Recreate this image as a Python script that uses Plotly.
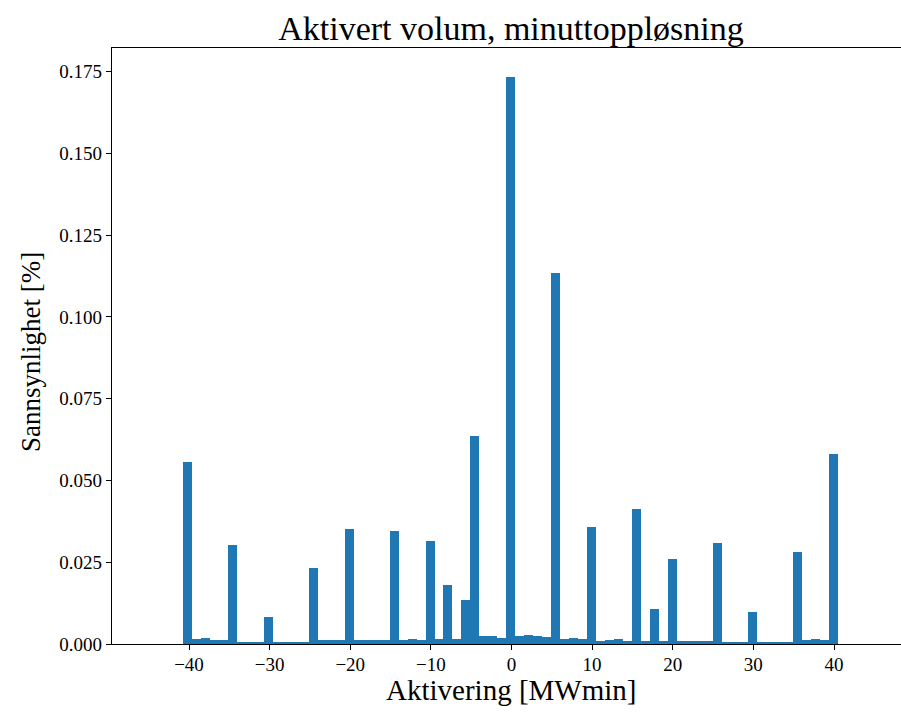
import plotly.graph_objects as go

# Histogram data (density per bin)
bin_start = -40.7
bin_width = 1.1125
densities = [
    0.0556, 0.0014, 0.0019, 0.0011, 0.0011, 0.0302, 0.0005, 0.0005, 0.0005, 0.0084,
    0.0004, 0.0004, 0.0004, 0.0004, 0.0233, 0.0011, 0.0011, 0.0011, 0.0353, 0.0011,
    0.0011, 0.0011, 0.0011, 0.0344, 0.0011, 0.0015, 0.0011, 0.0316, 0.0014, 0.0181,
    0.0014, 0.0136, 0.0636, 0.0024, 0.0023, 0.0019, 0.1734, 0.0023, 0.0029, 0.0024,
    0.0020, 0.1133, 0.0015, 0.0019, 0.0015, 0.0357, 0.0010, 0.0013, 0.0014, 0.0010,
    0.0413, 0.0010, 0.0107, 0.0010, 0.0261, 0.0010, 0.0010, 0.0010, 0.0010, 0.0310,
    0.0005, 0.0005, 0.0005, 0.0098, 0.0005, 0.0005, 0.0005, 0.0005, 0.0282, 0.0011,
    0.0015, 0.0011, 0.0580,
]
x_ticks = [-40, -30, -20, -10, 0, 10, 20, 30, 40]
y_ticks = [0.0, 0.025, 0.05, 0.075, 0.1, 0.125, 0.15, 0.175]

title_text = "Aktivert volum, minuttoppløsning"
x_label = "Aktivering [MWmin]"
y_label = "Sannsynlighet [%]"

centers = [bin_start + bin_width * (i + 0.5) for i in range(len(densities))]

FONT = "Liberation Serif, Times New Roman, serif"

fig = go.Figure()
fig.add_trace(go.Bar(
    x=centers, y=densities, width=bin_width,
    marker=dict(color="#1f77b4", line=dict(width=0)),
    showlegend=False,
))

fig.update_layout(
    width=901, height=714,
    margin=dict(l=112, r=0, t=48, b=70),
    paper_bgcolor="white", plot_bgcolor="white",
    bargap=0,
    font=dict(family=FONT, color="black"),
    title=dict(text=title_text, x=511 / 901, xref="container", xanchor="center",
               y=1 - 28 / 714, yref="container", yanchor="middle",
               font=dict(size=34, family=FONT, color="black")),
    annotations=[
        dict(text=x_label, xref="paper", yref="paper",
             x=(511 - 112) / 789, y=(644 - 690) / 596,
             xanchor="center", yanchor="middle", showarrow=False,
             font=dict(size=29, family=FONT, color="black")),
        dict(text=y_label, xref="paper", yref="paper",
             x=(31 - 112) / 789, y=(644 - 352) / 596, textangle=-90,
             xanchor="center", yanchor="middle", showarrow=False,
             font=dict(size=27, family=FONT, color="black")),
    ],
)
fig.update_xaxes(
    range=[-49.55, 48.31], tickvals=x_ticks,
    ticktext=[("\u2212" + str(-t)) if t < 0 else str(t) for t in x_ticks],
    ticks="outside", ticklen=5, tickwidth=1, tickcolor="black",
    showline=True, linecolor="black", linewidth=1.2, mirror=True,
    showgrid=False, zeroline=False, ticklabelstandoff=-2,
    tickfont=dict(size=19, family=FONT, color="black"),
)
fig.update_yaxes(
    range=[0, 0.1822], tickvals=y_ticks,
    ticktext=[f"{t:.3f}" for t in y_ticks],
    ticks="outside", ticklen=5, tickwidth=1, tickcolor="black",
    showline=True, linecolor="black", linewidth=1.2,
    showgrid=False, zeroline=False,
    tickfont=dict(size=19, family=FONT, color="black"),
)

fig.write_html("out.html")
